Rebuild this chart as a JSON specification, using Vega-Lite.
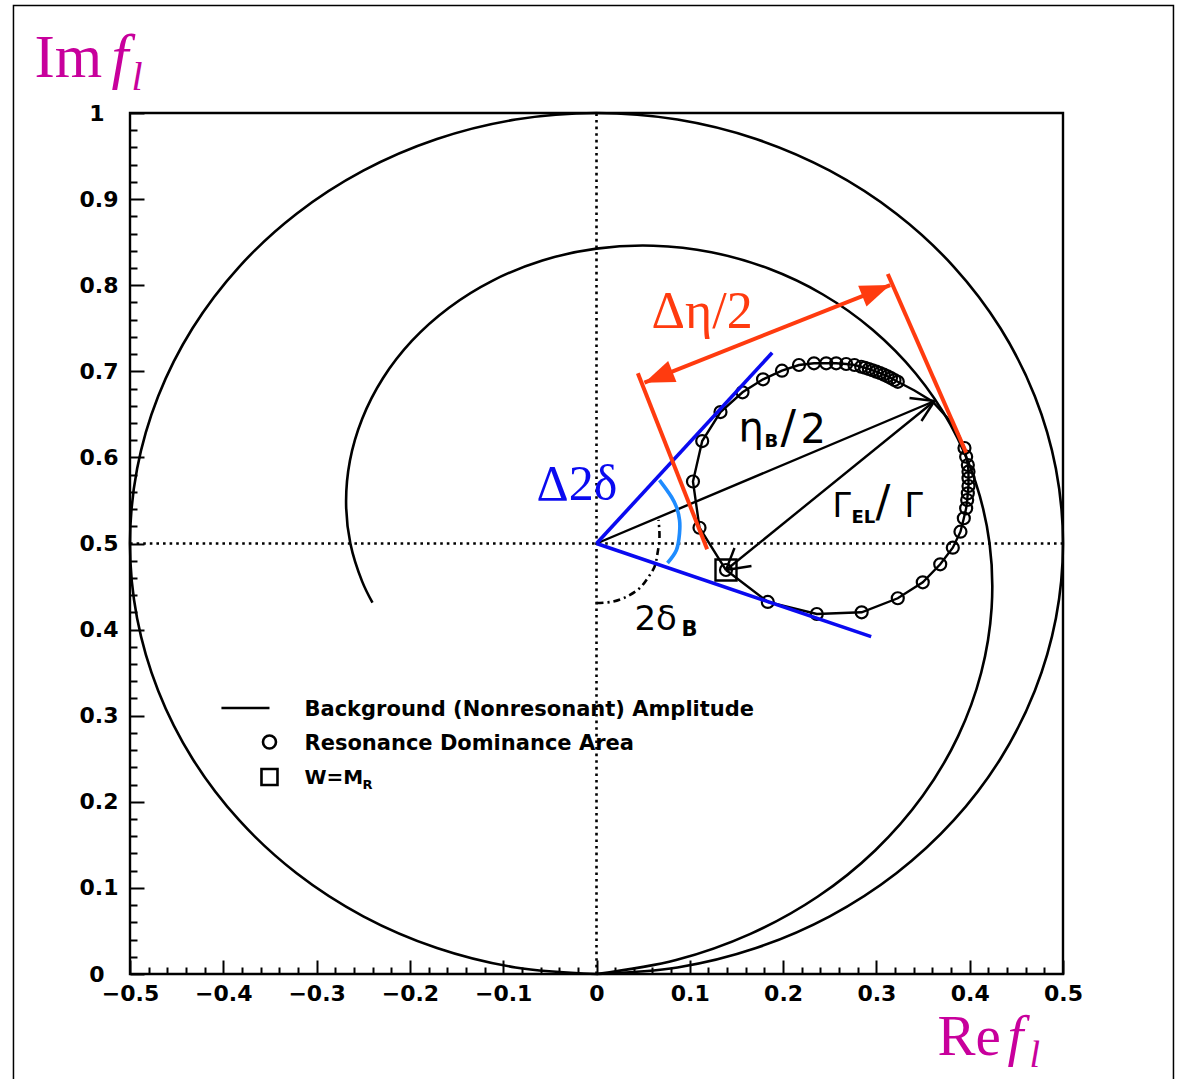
{
"$schema": "https://vega.github.io/schema/vega-lite/v6.json",
"width": 933, "height": 861,
"autosize": {"type": "none"},
"padding": {"left": 130, "top": 113, "right": 116, "bottom": 105},
"background": "white",
"config": {"view": {"stroke": "black", "strokeWidth": 2.4}},
"datasets": {
"dotted": [{"x": 0, "y": 0, "x2": 0, "y2": 1}, {"x": -0.5, "y": 0.5, "x2": 0.5, "y2": 0.5}],
"uc": [{"i":0,"x":0,"y":0},{"i":1,"x":0.0868,"y":0.0076},{"i":2,"x":0.1710,"y":0.0302},{"i":3,"x":0.25,"y":0.0670},{"i":4,"x":0.3214,"y":0.1170},{"i":5,"x":0.3830,"y":0.1786},{"i":6,"x":0.4330,"y":0.25},{"i":7,"x":0.4698,"y":0.3290},{"i":8,"x":0.4924,"y":0.4132},{"i":9,"x":0.5,"y":0.5},{"i":10,"x":0.4924,"y":0.5868},{"i":11,"x":0.4698,"y":0.6710},{"i":12,"x":0.4330,"y":0.75},{"i":13,"x":0.3830,"y":0.8214},{"i":14,"x":0.3214,"y":0.8830},{"i":15,"x":0.25,"y":0.9330},{"i":16,"x":0.1710,"y":0.9698},{"i":17,"x":0.0868,"y":0.9924},{"i":18,"x":0,"y":1},{"i":19,"x":-0.0868,"y":0.9924},{"i":20,"x":-0.1710,"y":0.9698},{"i":21,"x":-0.25,"y":0.9330},{"i":22,"x":-0.3214,"y":0.8830},{"i":23,"x":-0.3830,"y":0.8214},{"i":24,"x":-0.4330,"y":0.75},{"i":25,"x":-0.4698,"y":0.6710},{"i":26,"x":-0.4924,"y":0.5868},{"i":27,"x":-0.5,"y":0.5},{"i":28,"x":-0.4924,"y":0.4132},{"i":29,"x":-0.4698,"y":0.3290},{"i":30,"x":-0.4330,"y":0.25},{"i":31,"x":-0.3830,"y":0.1786},{"i":32,"x":-0.3214,"y":0.1170},{"i":33,"x":-0.25,"y":0.0670},{"i":34,"x":-0.1710,"y":0.0302},{"i":35,"x":-0.0868,"y":0.0076},{"i":36,"x":0,"y":0}],
"sp": [{"i":0,"x":0,"y":0},{"i":1,"x":0.0853,"y":0.0162},{"i":2,"x":0.1650,"y":0.0466},{"i":3,"x":0.2369,"y":0.0897},{"i":4,"x":0.2989,"y":0.1438},{"i":5,"x":0.3495,"y":0.2067},{"i":6,"x":0.3876,"y":0.2763},{"i":7,"x":0.4123,"y":0.3499},{"i":8,"x":0.4235,"y":0.4253},{"i":9,"x":0.4213,"y":0.5},{"i":10,"x":0.4062,"y":0.5716},{"i":11,"x":0.3794,"y":0.6381},{"i":12,"x":0.3421,"y":0.6975},{"i":13,"x":0.2959,"y":0.7483},{"i":14,"x":0.2427,"y":0.7892},{"i":15,"x":0.1844,"y":0.8193},{"i":16,"x":0.1231,"y":0.8383},{"i":17,"x":0.0610,"y":0.8459},{"i":18,"x":0,"y":0.8425},{"i":19,"x":-0.0580,"y":0.8287},{"i":20,"x":-0.1112,"y":0.8054},{"i":21,"x":-0.1581,"y":0.7739},{"i":22,"x":-0.1977,"y":0.7356},{"i":23,"x":-0.2289,"y":0.6920},{"i":24,"x":-0.2511,"y":0.645},{"i":25,"x":-0.2643,"y":0.5962},{"i":26,"x":-0.2684,"y":0.5473},{"i":27,"x":-0.2638,"y":0.5},{"i":28,"x":-0.2511,"y":0.4557},{"i":29,"x":-0.2401,"y":0.4312}],
"res": [{"i":1,"x":0.1388,"y":0.4692,"m":1},{"i":2,"x":0.1104,"y":0.5183,"m":1},{"i":3,"x":0.1034,"y":0.5720,"m":1},{"i":4,"x":0.1133,"y":0.6190,"m":1},{"i":5,"x":0.1329,"y":0.6527,"m":1},{"i":6,"x":0.1565,"y":0.6756,"m":1},{"i":7,"x":0.1785,"y":0.6907,"m":1},{"i":8,"x":0.1988,"y":0.7007,"m":1},{"i":9,"x":0.2170,"y":0.7073,"m":1},{"i":10,"x":0.2331,"y":0.7093,"m":1},{"i":11,"x":0.2462,"y":0.7093,"m":1},{"i":12,"x":0.2569,"y":0.7093,"m":1},{"i":13,"x":0.2676,"y":0.7085,"m":1},{"i":14,"x":0.2765,"y":0.7073,"m":1},{"i":15,"x":0.2837,"y":0.7053,"m":1},{"i":16,"x":0.2878,"y":0.7041,"m":1},{"i":17,"x":0.2919,"y":0.7027,"m":1},{"i":18,"x":0.2958,"y":0.7012,"m":1},{"i":19,"x":0.2999,"y":0.6996,"m":1},{"i":20,"x":0.3039,"y":0.6980,"m":1},{"i":21,"x":0.3078,"y":0.6962,"m":1},{"i":22,"x":0.3119,"y":0.6942,"m":1},{"i":23,"x":0.3156,"y":0.6921,"m":1},{"i":24,"x":0.3194,"y":0.6899,"m":1},{"i":25,"x":0.3229,"y":0.6878,"m":1},{"i":26,"x":0.3408,"y":0.6777,"m":0},{"i":27,"x":0.3601,"y":0.6649,"m":0},{"i":28,"x":0.3762,"y":0.6458,"m":0},{"i":29,"x":0.3869,"y":0.6295,"m":0},{"i":30,"x":0.3944,"y":0.6109,"m":1},{"i":31,"x":0.3962,"y":0.6008,"m":1},{"i":32,"x":0.3980,"y":0.5912,"m":1},{"i":33,"x":0.3987,"y":0.5834,"m":1},{"i":34,"x":0.3987,"y":0.5757,"m":1},{"i":35,"x":0.3987,"y":0.5668,"m":1},{"i":36,"x":0.3980,"y":0.5583,"m":1},{"i":37,"x":0.3973,"y":0.5505,"m":1},{"i":38,"x":0.3962,"y":0.5409,"m":1},{"i":39,"x":0.3937,"y":0.5293,"m":1},{"i":40,"x":0.3901,"y":0.5137,"m":1},{"i":41,"x":0.3819,"y":0.4951,"m":1},{"i":42,"x":0.3684,"y":0.4758,"m":1},{"i":43,"x":0.3497,"y":0.4549,"m":1},{"i":44,"x":0.3229,"y":0.4364,"m":1},{"i":45,"x":0.2842,"y":0.4201,"m":1},{"i":46,"x":0.2361,"y":0.4181,"m":1},{"i":47,"x":0.1836,"y":0.4321,"m":1},{"i":48,"x":0.1388,"y":0.4692,"m":0}],
"sq": [{"x":0.1388,"y":0.4692}],
"segs": [{"x":0,"y":0.5,"x2":0.3623,"y2":0.6655},{"x":0.3623,"y":0.6655,"x2":0.1388,"y2":0.4692},{"x":0.3623,"y":0.6655,"x2":0.3355,"y2":0.6690},{"x":0.3623,"y":0.6655,"x2":0.3483,"y2":0.6423},{"x":0.1388,"y":0.4692,"x2":0.1479,"y2":0.4948},{"x":0.1388,"y":0.4692,"x2":0.1661,"y2":0.4739}],
"dash": [{"i":0,"x":0,"y":0.4309},{"i":1,"x":0.0171,"y":0.4324},{"i":2,"x":0.0322,"y":0.4382},{"i":3,"x":0.0461,"y":0.4480},{"i":4,"x":0.0547,"y":0.4596},{"i":5,"x":0.0622,"y":0.4731},{"i":6,"x":0.0654,"y":0.4886},{"i":7,"x":0.0675,"y":0.5079},{"i":8,"x":0.0665,"y":0.5273}],
"blue": [{"x":0,"y":0.5,"x2":0.1883,"y2":0.7216},{"x":0,"y":0.5,"x2":0.2944,"y2":0.3918}],
"barc": [{"i":0,"x":0.0675,"y":0.5737},{"i":1,"x":0.0804,"y":0.5540},{"i":2,"x":0.0857,"y":0.5424},{"i":3,"x":0.0890,"y":0.5273},{"i":4,"x":0.0890,"y":0.5122},{"i":5,"x":0.0857,"y":0.4925},{"i":6,"x":0.0761,"y":0.4774}],
"red": [{"x":0.0443,"y":0.6977,"x2":0.1186,"y2":0.4933},{"x":0.3122,"y":0.8130,"x2":0.3962,"y2":0.6055},{"x":0.0514,"y":0.6868,"x2":0.3148,"y2":0.8002}],
"headR": [{"x":0.3148,"y":0.8002}],
"headL": [{"x":0.0514,"y":0.6868}],
"tMag": [{"x":-0.6024,"y":1.0418,"t":"Im"}],
"tMagF": [{"x":-0.5198,"y":1.0418,"t":"f"}],
"tMagL": [{"x":-0.4984,"y":1.0267,"t":"l"}],
"tRe": [{"x":0.3655,"y":-0.0941,"t":"Re"}],
"tReF": [{"x":0.4405,"y":-0.0941,"t":"f"}],
"tReL": [{"x":0.4640,"y":-0.1080,"t":"l"}],
"tRed": [{"x":0.0590,"y":0.7503,"t":"Δη/2"}],
"tBlue": [{"x":-0.0643,"y":0.5505,"t":"Δ2δ"}],
"tBig": [{"x":0.1522,"y":0.6190,"t":"η","s":40},{"x":0.1972,"y":0.6167,"t":"/","s":46},{"x":0.2186,"y":0.6167,"t":"2","s":40},{"x":0.2529,"y":0.5308,"t":"Γ","s":33},{"x":0.2990,"y":0.5308,"t":"/","s":44},{"x":0.3301,"y":0.5308,"t":"Γ","s":33},{"x":0.0407,"y":0.3995,"t":"2δ","s":34}],
"tSub": [{"x":0.1801,"y":0.6121,"t":"B","s":18},{"x":0.2733,"y":0.5238,"t":"EL","s":18},{"x":0.0911,"y":0.3926,"t":"B","s":21}],
"legLine": [{"x":-0.4020,"y":0.3089,"x2":-0.3505,"y2":0.3089}],
"legCirc": [{"x":-0.3505,"y":0.2695}],
"legSq": [{"x":-0.3505,"y":0.2288}],
"legTxt": [{"x":-0.3130,"y":0.2997,"t":"Background (Nonresonant) Amplitude"},{"x":-0.3130,"y":0.2602,"t":"Resonance Dominance Area"}],
"legW": [{"x":-0.3130,"y":0.2207,"t":"W=M","s":20},{"x":-0.2508,"y":0.2149,"t":"R","s":13}],
"border": [{"x":-0.6249,"y":1.1249,"x2":0.6184,"y2":-0.13}]
},
"encoding": {
"x": {"field": "x", "type": "quantitative", "scale": {"domain": [-0.5, 0.5], "nice": false, "zero": false},
 "axis": {"title": null, "domain": false, "grid": false,
  "values": [-0.5,-0.48,-0.46,-0.44,-0.42,-0.4,-0.38,-0.36,-0.34,-0.32,-0.3,-0.28,-0.26,-0.24,-0.22,-0.2,-0.18,-0.16,-0.14,-0.12,-0.1,-0.08,-0.06,-0.04,-0.02,0,0.02,0.04,0.06,0.08,0.1,0.12,0.14,0.16,0.18,0.2,0.22,0.24,0.26,0.28,0.3,0.32,0.34,0.36,0.38,0.4,0.42,0.44,0.46,0.48,0.5],
  "labelExpr": "abs(datum.value*10-round(datum.value*10))<0.001 ? format(datum.value,'~g') : ''",
  "tickSize": -14, "tickWidth": 2, "tickColor": "black",
  "tickDash": {"condition": {"test": "abs(datum.value*10-round(datum.value*10))<0.001", "value": []}, "value": [7, 30]},
  "labelFont": "DejaVu Sans", "labelFontSize": 22, "labelFontWeight": "bold", "labelColor": "black",
  "labelPadding": 23, "labelFlush": false, "labelOverlap": false}},
"y": {"field": "y", "type": "quantitative", "scale": {"domain": [0, 1], "nice": false, "zero": false},
 "axis": {"title": null, "domain": false, "grid": false,
  "values": [0,0.02,0.04,0.06,0.08,0.1,0.12,0.14,0.16,0.18,0.2,0.22,0.24,0.26,0.28,0.3,0.32,0.34,0.36,0.38,0.4,0.42,0.44,0.46,0.48,0.5,0.52,0.54,0.56,0.58,0.6,0.62,0.64,0.66,0.68,0.7,0.72,0.74,0.76,0.78,0.8,0.82,0.84,0.86,0.88,0.9,0.92,0.94,0.96,0.98,1],
  "labelExpr": "abs(datum.value*10-round(datum.value*10))<0.001 ? format(datum.value,'~g') : ''",
  "tickSize": -14, "tickWidth": 2, "tickColor": "black",
  "tickDash": {"condition": {"test": "abs(datum.value*10-round(datum.value*10))<0.001", "value": []}, "value": [7, 30]},
  "labelFont": "DejaVu Sans", "labelFontSize": 22, "labelFontWeight": "bold", "labelColor": "black",
  "labelPadding": {"condition": {"test": "abs(datum.value-round(datum.value))<0.001", "value": 40}, "value": 26},
  "labelFlush": false, "labelOverlap": false}}
},
"layer": [
{"data": {"name": "dotted"}, "mark": {"type": "rule", "color": "black", "strokeWidth": 2.6, "strokeDash": [2.6, 4]}, "encoding": {"x2": {"field": "x2"}, "y2": {"field": "y2"}}},
{"data": {"name": "uc"}, "mark": {"type": "line", "interpolate": "catmull-rom", "color": "black", "strokeWidth": 2.6}, "encoding": {"order": {"field": "i", "type": "quantitative"}}},
{"data": {"name": "sp"}, "mark": {"type": "line", "interpolate": "catmull-rom", "color": "black", "strokeWidth": 2.6}, "encoding": {"order": {"field": "i", "type": "quantitative"}}},
{"data": {"name": "res"}, "mark": {"type": "line", "color": "black", "strokeWidth": 2.4}, "encoding": {"order": {"field": "i", "type": "quantitative"}}},
{"data": {"name": "res"}, "transform": [{"filter": "datum.m == 1"}], "mark": {"type": "point", "shape": "circle", "filled": false, "color": "black", "size": 144, "strokeWidth": 2.2, "opacity": 1}},
{"data": {"name": "sq"}, "mark": {"type": "point", "shape": "square", "filled": false, "color": "black", "size": 441, "strokeWidth": 2.4, "opacity": 1}},
{"data": {"name": "segs"}, "mark": {"type": "rule", "color": "black", "strokeWidth": 2.4}, "encoding": {"x2": {"field": "x2"}, "y2": {"field": "y2"}}},
{"data": {"name": "dash"}, "mark": {"type": "line", "interpolate": "catmull-rom", "color": "black", "strokeWidth": 2.6, "strokeDash": [7, 4, 2, 4]}, "encoding": {"order": {"field": "i", "type": "quantitative"}}},
{"data": {"name": "blue"}, "mark": {"type": "rule", "color": "#0a0af0", "strokeWidth": 3.6}, "encoding": {"x2": {"field": "x2"}, "y2": {"field": "y2"}}},
{"data": {"name": "barc"}, "mark": {"type": "line", "interpolate": "catmull-rom", "color": "#1e8cff", "strokeWidth": 3.6}, "encoding": {"order": {"field": "i", "type": "quantitative"}}},
{"data": {"name": "red"}, "mark": {"type": "rule", "color": "#ff3b0f", "strokeWidth": 4}, "encoding": {"x2": {"field": "x2"}, "y2": {"field": "y2"}}},
{"data": {"name": "headR"}, "mark": {"type": "point", "shape": "M0,0L-2,-0.75L-2,0.75Z", "filled": true, "color": "#ff3b0f", "size": 900, "angle": 338.3, "opacity": 1, "strokeWidth": 0}},
{"data": {"name": "headL"}, "mark": {"type": "point", "shape": "M0,0L2,-0.75L2,0.75Z", "filled": true, "color": "#ff3b0f", "size": 900, "angle": 338.3, "opacity": 1, "strokeWidth": 0}},
{"data": {"name": "tMag"}, "mark": {"type": "text", "align": "left", "baseline": "alphabetic", "font": "Liberation Serif", "fontSize": 61, "color": "#c8009c"}, "encoding": {"text": {"field": "t"}}},
{"data": {"name": "tMagF"}, "mark": {"type": "text", "align": "left", "baseline": "alphabetic", "font": "Liberation Serif", "fontStyle": "italic", "fontSize": 61, "color": "#c8009c"}, "encoding": {"text": {"field": "t"}}},
{"data": {"name": "tMagL"}, "mark": {"type": "text", "align": "left", "baseline": "alphabetic", "font": "Liberation Serif", "fontStyle": "italic", "fontSize": 40, "color": "#c8009c"}, "encoding": {"text": {"field": "t"}}},
{"data": {"name": "tRe"}, "mark": {"type": "text", "align": "left", "baseline": "alphabetic", "font": "Liberation Serif", "fontSize": 57, "color": "#c8009c"}, "encoding": {"text": {"field": "t"}}},
{"data": {"name": "tReF"}, "mark": {"type": "text", "align": "left", "baseline": "alphabetic", "font": "Liberation Serif", "fontStyle": "italic", "fontSize": 57, "color": "#c8009c"}, "encoding": {"text": {"field": "t"}}},
{"data": {"name": "tReL"}, "mark": {"type": "text", "align": "left", "baseline": "alphabetic", "font": "Liberation Serif", "fontStyle": "italic", "fontSize": 38, "color": "#c8009c"}, "encoding": {"text": {"field": "t"}}},
{"data": {"name": "tRed"}, "mark": {"type": "text", "align": "left", "baseline": "alphabetic", "font": "Liberation Serif", "fontSize": 52, "color": "#ff3b0f"}, "encoding": {"text": {"field": "t"}}},
{"data": {"name": "tBlue"}, "mark": {"type": "text", "align": "left", "baseline": "alphabetic", "font": "Liberation Serif", "fontSize": 50, "color": "#0a0af0"}, "encoding": {"text": {"field": "t"}}},
{"data": {"name": "tBig"}, "mark": {"type": "text", "align": "left", "baseline": "alphabetic", "font": "DejaVu Sans", "color": "black"}, "encoding": {"text": {"field": "t"}, "size": {"field": "s", "type": "quantitative", "scale": null}}},
{"data": {"name": "tSub"}, "mark": {"type": "text", "align": "left", "baseline": "alphabetic", "font": "DejaVu Sans", "fontWeight": "bold", "color": "black"}, "encoding": {"text": {"field": "t"}, "size": {"field": "s", "type": "quantitative", "scale": null}}},
{"data": {"name": "legLine"}, "mark": {"type": "rule", "color": "black", "strokeWidth": 2.4}, "encoding": {"x2": {"field": "x2"}, "y2": {"field": "y2"}}},
{"data": {"name": "legCirc"}, "mark": {"type": "point", "shape": "circle", "filled": false, "color": "black", "size": 169, "strokeWidth": 2.6, "opacity": 1}},
{"data": {"name": "legSq"}, "mark": {"type": "point", "shape": "square", "filled": false, "color": "black", "size": 256, "strokeWidth": 2.6, "opacity": 1}},
{"data": {"name": "legTxt"}, "mark": {"type": "text", "align": "left", "baseline": "alphabetic", "font": "DejaVu Sans", "fontWeight": "bold", "fontSize": 21, "color": "black"}, "encoding": {"text": {"field": "t"}}},
{"data": {"name": "legW"}, "mark": {"type": "text", "align": "left", "baseline": "alphabetic", "font": "DejaVu Sans", "fontWeight": "bold", "color": "black"}, "encoding": {"text": {"field": "t"}, "size": {"field": "s", "type": "quantitative", "scale": null}}},
{"data": {"name": "border"}, "mark": {"type": "rect", "fillOpacity": 0, "stroke": "black", "strokeWidth": 1.5}, "encoding": {"x2": {"field": "x2"}, "y2": {"field": "y2"}}}
]
}
